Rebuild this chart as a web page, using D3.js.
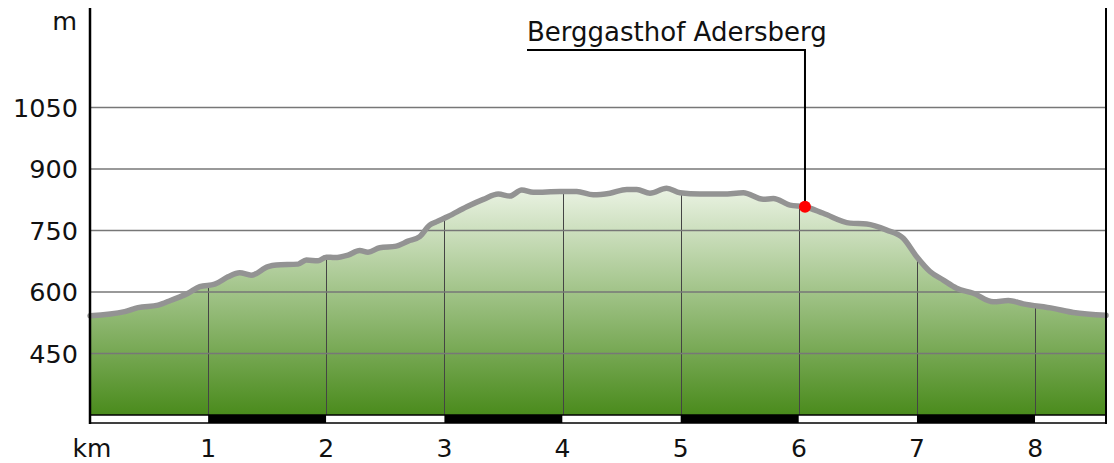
<!DOCTYPE html>
<html>
<head>
<meta charset="utf-8">
<script src="https://cdn.jsdelivr.net/npm/d3@7"></script>
<style>
  body { margin: 0; background: #fff; }
  svg text { font-family: "DejaVu Sans", sans-serif; fill: #111; }
</style>
</head>
<body>
<div id="chart"></div>
<script>
// distance in km along the route
var distKm = [0, 0.294, 0.406, 0.576, 0.686, 0.830, 0.929, 1.056, 1.168, 1.267, 1.365, 1.507, 1.577, 1.761, 1.831,
  1.930, 2.000, 2.071, 2.184, 2.283, 2.353, 2.452, 2.593, 2.692, 2.791, 2.875, 2.931, 3.030, 3.189, 3.329, 3.456,
  3.555, 3.654, 3.752, 3.978, 4.120, 4.260, 4.402, 4.543, 4.628, 4.740, 4.881, 4.994, 5.163, 5.361, 5.530, 5.699,
  5.784, 5.925, 6.052, 6.207, 6.433, 6.574, 6.744, 6.884, 6.998, 7.110, 7.223, 7.336, 7.477, 7.646, 7.773, 7.900,
  8.153, 8.323, 8.600];
// elevation in m
var elevM = [542, 552, 562, 568, 580, 597, 613, 619, 637, 647, 641, 662, 666, 668, 678,
  676, 685, 684, 690, 701, 697, 708, 712, 724, 735, 763, 771, 784, 808, 826, 839,
  834, 849, 843, 845, 845, 837, 841, 850, 850, 841, 853, 842, 839, 839, 842, 826,
  828, 812, 808, 792, 768, 766, 751, 731, 686, 650, 629, 609, 597, 576, 579, 571,
  560, 550, 543];

var yTicks = [450, 600, 750, 900, 1050];
var xTicks = [1, 2, 3, 4, 5, 6, 7, 8];
var poiName = "Berggasthof Adersberg";
var poiKm = 6.052;
var poiElev = 808;

var width = 1114, height = 463;
var x0 = 90, x1 = 1106, yBase = 415, yBottom = 423, yTop = 8;

var svg = d3.select("#chart").append("svg")
  .attr("width", width).attr("height", height);

var x = d3.scaleLinear().domain([0, 8.6]).range([x0, x1]);
var y = d3.scaleLinear().domain([300, 1050]).range([yBase, yBase - 750 * 0.41]);

var data = distKm.map(function(d, i) { return { km: d, m: elevM[i] }; });

var grad = svg.append("defs").append("linearGradient")
  .attr("id", "fillGrad")
  .attr("gradientUnits", "userSpaceOnUse")
  .attr("x1", 0).attr("x2", 0)
  .attr("y1", y(855)).attr("y2", yBase);
grad.append("stop").attr("offset", "0%").attr("stop-color", "#ebf3e4");
grad.append("stop").attr("offset", "100%").attr("stop-color", "#4a8b1c");

var area = d3.area()
  .x(function(d) { return x(d.km); })
  .y0(yBase)
  .y1(function(d) { return y(d.m); })
  .curve(d3.curveMonotoneX);

svg.append("path")
  .datum(data)
  .attr("d", area)
  .attr("fill", "url(#fillGrad)");

// vertical km lines inside the filled profile
var profileAt = d3.scaleLinear().domain(distKm).range(elevM);
svg.append("g").selectAll("line")
  .data(xTicks)
  .enter().append("line")
  .attr("x1", function(d) { return Math.round(x(d)) + 0.5; })
  .attr("x2", function(d) { return Math.round(x(d)) + 0.5; })
  .attr("y1", function(d) { return y(profileAt(d)); })
  .attr("y2", yBase)
  .attr("stroke", "#444")
  .attr("stroke-width", 1);

// horizontal grid lines
svg.append("g").selectAll("line")
  .data(yTicks)
  .enter().append("line")
  .attr("x1", x0).attr("x2", x1)
  .attr("y1", function(d) { return y(d); })
  .attr("y2", function(d) { return y(d); })
  .attr("stroke", "#777")
  .attr("stroke-width", 1.5);

var line = d3.line()
  .x(function(d) { return x(d.km); })
  .y(function(d) { return y(d.m); })
  .curve(d3.curveMonotoneX);

svg.append("path")
  .datum(data)
  .attr("d", line)
  .attr("fill", "none")
  .attr("stroke", "#939393")
  .attr("stroke-width", 5.5)
  .attr("stroke-linejoin", "round")
  .attr("stroke-linecap", "round");

// km bar below the profile
var segs = d3.range(0, 9).map(function(i) { return { a: i, b: Math.min(i + 1, 8.6) }; });
svg.append("g").selectAll("rect")
  .data(segs)
  .enter().append("rect")
  .attr("x", function(d) { return x(d.a); })
  .attr("width", function(d) { return x(d.b) - x(d.a); })
  .attr("y", yBase)
  .attr("height", yBottom - yBase)
  .attr("fill", function(d) { return d.a % 2 === 1 ? "#000" : "#fff"; });
svg.append("rect")
  .attr("x", x0).attr("y", yBase)
  .attr("width", x1 - x0).attr("height", yBottom - yBase)
  .attr("fill", "none").attr("stroke", "#000").attr("stroke-width", 1.5);

// frame
svg.append("line").attr("x1", x0).attr("x2", x0).attr("y1", yTop).attr("y2", yBottom + 1)
  .attr("stroke", "#000").attr("stroke-width", 2.5);
svg.append("line").attr("x1", x1).attr("x2", x1).attr("y1", yTop).attr("y2", yBottom + 1)
  .attr("stroke", "#000").attr("stroke-width", 2);

// axis labels
svg.append("g").selectAll("text")
  .data(yTicks)
  .enter().append("text")
  .attr("x", 78)
  .attr("y", function(d) { return y(d); })
  .attr("dy", "0.36em")
  .attr("text-anchor", "end")
  .style("font-size", "25.5px")
  .text(function(d) { return d; });
svg.append("text").attr("x", 77).attr("y", 30).attr("text-anchor", "end")
  .style("font-size", "25.5px").text("m");

svg.append("g").selectAll("text")
  .data(xTicks)
  .enter().append("text")
  .attr("x", function(d) { return x(d); })
  .attr("y", 457)
  .attr("text-anchor", "middle")
  .style("font-size", "25px")
  .text(function(d) { return d; });
svg.append("text").attr("x", 92).attr("y", 457).attr("text-anchor", "middle")
  .style("font-size", "25px").text("km");

// point of interest with leader line
var px = x(poiKm), py = y(poiElev);
svg.append("path")
  .attr("d", "M" + px + "," + py + "V50H527")
  .attr("fill", "none")
  .attr("stroke", "#000")
  .attr("stroke-width", 2);
svg.append("circle")
  .attr("cx", px).attr("cy", py).attr("r", 6)
  .attr("fill", "#f00");
svg.append("text")
  .attr("x", 527).attr("y", 41)
  .style("font-size", "26px")
  .text(poiName);
</script>
</body>
</html>
